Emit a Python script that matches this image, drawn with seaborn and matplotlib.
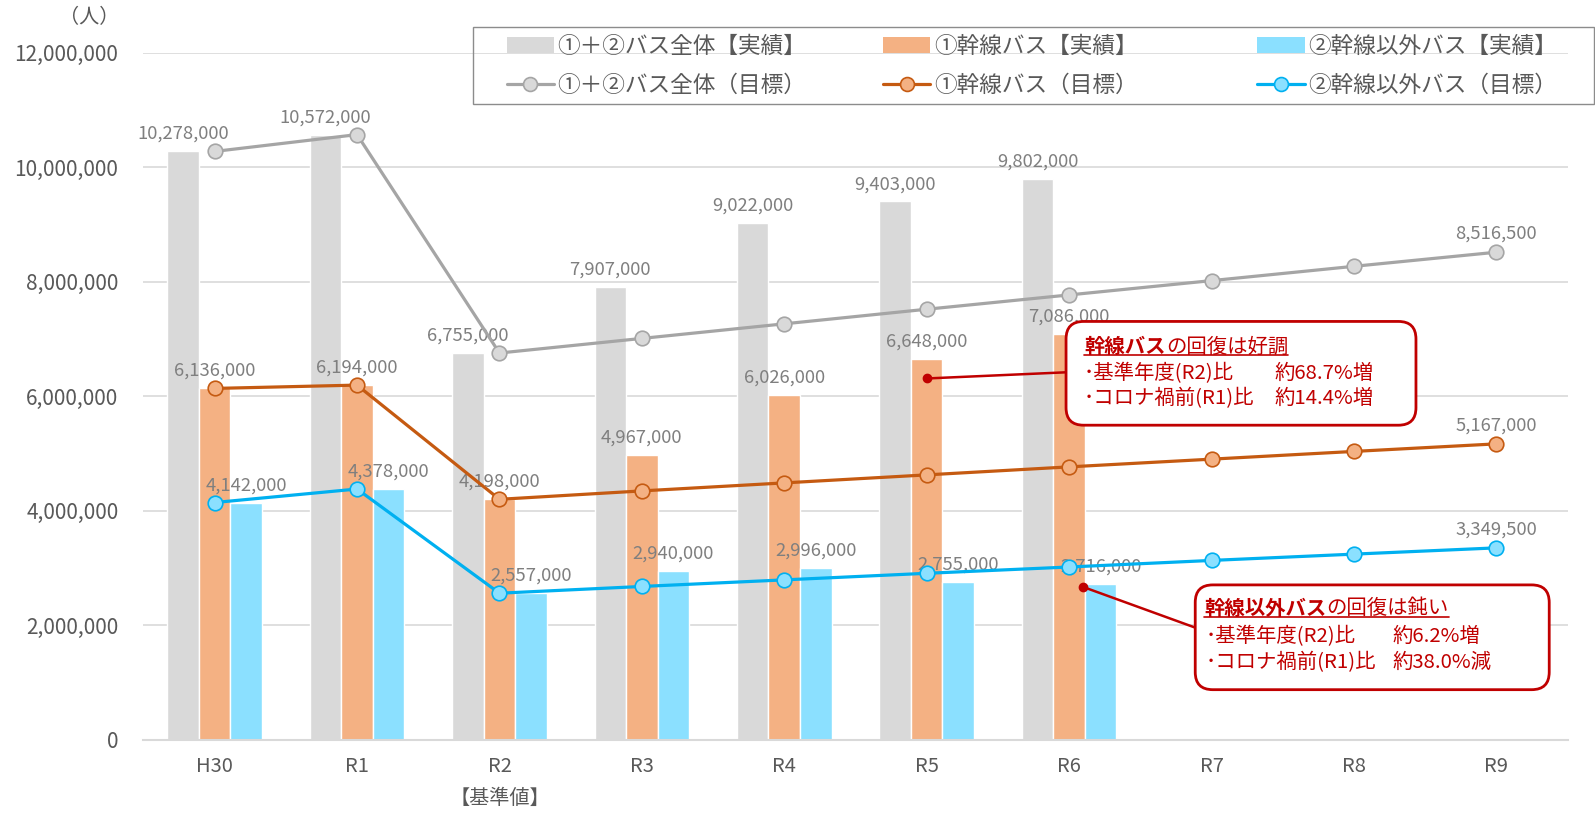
import matplotlib
matplotlib.use('Agg')
import matplotlib.pyplot as plt
import numpy as np
import pandas as pd
import seaborn as sns
from matplotlib.patches import Patch, FancyBboxPatch, Rectangle
from matplotlib.lines import Line2D
from matplotlib.ticker import FuncFormatter

# 年度
years = ['H30', 'R1', 'R2', 'R3', 'R4', 'R5', 'R6', 'R7', 'R8', 'R9']
actual_years = years[:7]

# 実績
total_actual = [10278000, 10572000, 6755000, 7907000, 9022000, 9403000, 9802000]
trunk_actual = [6136000, 6194000, 4198000, 4967000, 6026000, 6648000, 7086000]
other_actual = [4142000, 4378000, 2557000, 2940000, 2996000, 2755000, 2716000]

# 目標
total_target = [10278000, 10572000, 6755000, 7010000, 7265000, 7520000, 7770000, 8020000, 8270000, 8516500]
trunk_target = [6136000, 6194000, 4198000, 4345000, 4485000, 4625000, 4765000, 4900000, 5035000, 5167000]
other_target = [4142000, 4378000, 2557000, 2675000, 2790000, 2905000, 3015000, 3130000, 3240000, 3349500]

bar_names = ['①＋②バス全体【実績】', '①幹線バス【実績】', '②幹線以外バス【実績】']
line_names = ['①＋②バス全体（目標）', '①幹線バス（目標）', '②幹線以外バス（目標）']

bar_colors = ['#D9D9D9', '#F4B183', '#8BE0FF']
line_colors = ['#A5A5A5', '#C55A11', '#00B0F0']
TXT = '#595959'
LBL = '#7F7F7F'
RED = '#C00000'

sns.set_style('white')
plt.rcParams['font.family'] = ['Noto Sans CJK JP', 'DejaVu Sans']

W, H = 1595, 813
DW = 1568.0            # 位置は 1568 幅の見た目座標で指定
DH = H * DW / W


def fx(px):
    return px / DW


def fy(py):
    return 1 - py / DH


fig = plt.figure(figsize=(W / 100, H / 100), dpi=100)
ax = fig.add_axes([fx(141), fy(727), (1541 - 141) / DW, (727 - 52) / DH])

df = pd.DataFrame({
    '年度': actual_years * 3,
    '人数': total_actual + trunk_actual + other_actual,
    '区分': [bar_names[0]] * 7 + [bar_names[1]] * 7 + [bar_names[2]] * 7,
})
sns.barplot(data=df, x='年度', y='人数', hue='区分', order=years, hue_order=bar_names,
            palette=bar_colors, saturation=1, width=0.665, gap=0, legend=False, ax=ax, zorder=2)

for cont in ax.containers:
    ax.bar_label(cont, fmt='{:,.0f}', padding=6, color=LBL, fontsize=13.3)

pos = np.arange(len(years))
for vals, lc, fc in zip([total_target, trunk_target, other_target], line_colors, bar_colors):
    sns.lineplot(x=pos, y=vals, color=lc, lw=2.3, marker='o', markersize=10.5,
                 markerfacecolor=fc, markeredgecolor=lc, markeredgewidth=1.2, ax=ax, zorder=4)
    ax.annotate(f'{vals[-1]:,}', (pos[-1], vals[-1]), xytext=(0, 7), textcoords='offset points',
                ha='center', va='bottom', color=LBL, fontsize=13.3)

ax.set_xlim(-0.5, 9.5)
ax.set_ylim(0, 12000000)
ax.set_yticks(np.arange(0, 12000001, 2000000))
ax.yaxis.set_major_formatter(FuncFormatter(lambda v, p: f'{v:,.0f}'))
ax.set_xticks(pos)
ax.set_xticklabels(years)
ax.set_xlabel('')
ax.set_ylabel('')
ax.tick_params(axis='y', length=0, pad=18, labelsize=15, labelcolor=TXT)
ax.tick_params(axis='x', length=0, pad=12, labelsize=14.5, labelcolor=TXT)
ax.grid(axis='y', color='#D9D9D9', lw=1.2)
ax.set_axisbelow(True)
for s in ['top', 'right', 'left']:
    ax.spines[s].set_visible(False)
ax.spines['bottom'].set_color('#D9D9D9')
ax.spines['bottom'].set_linewidth(1.5)

ax.text(2, -0.086, '【基準値】', transform=ax.get_xaxis_transform(), ha='center', va='center',
        fontsize=14.5, color=TXT)
fig.text(fx(88), fy(17), '（人）', ha='center', va='center', fontsize=14.5, color=TXT)

# 凡例（3列、枠は別に描く）
col_x = [498, 868, 1236]
for bn, ln, bc, lc, cx in zip(bar_names, line_names, bar_colors, line_colors, col_x):
    hs = [Patch(facecolor=bc, edgecolor='none'),
          Line2D([], [], color=lc, lw=2.3, marker='o', markersize=10,
                 markerfacecolor=bc, markeredgecolor=lc, markeredgewidth=1.2)]
    fig.legend(hs, [bn, ln], loc='upper left', bbox_to_anchor=(fx(cx), fy(34)),
               borderaxespad=0, borderpad=0, frameon=False, fontsize=16.3, labelcolor=TXT,
               handlelength=2.1, handletextpad=0.15, labelspacing=0.72)
fig.add_artist(Rectangle((fx(465), fy(102)), fx(1567) - fx(465), fy(27) - fy(102),
                         transform=fig.transFigure, fill=False, edgecolor='#8C8C8C', lw=1.0))

# 吹き出し
callouts = [
    dict(box=(1048, 316, 1392, 418), bold='幹線バス', rest='の回復は好調',
         rows=[('･基準年度(R2)比', '約68.7%増'), ('･コロナ禍前(R1)比', '約14.4%増')],
         dot=(5.0, 6310000), join=(1048, 366), yrow=(341, 367, 392), xa=1253, tx=18, rx=17),
    dict(box=(1175, 575, 1523, 678), bold='幹線以外バス', rest='の回復は鈍い',
         rows=[('･基準年度(R2)比', '約6.2%増'), ('･コロナ禍前(R1)比', '約38.0%減')],
         dot=(6.1, 2665000), join=(1175, 617), yrow=(598, 626, 651), xa=1369, tx=9, rx=10),
]

title_parts = []
for c in callouts:
    x0, y0, x1, y1 = c['box']
    box = FancyBboxPatch((fx(x0), fy(y1)), fx(x1) - fx(x0), fy(y0) - fy(y1),
                         boxstyle='round,pad=0,rounding_size=0.011', mutation_aspect=W / H,
                         transform=fig.transFigure, facecolor='white', edgecolor=RED, lw=2.0,
                         zorder=10)
    fig.add_artist(box)
    ax.plot([c['dot'][0]], [c['dot'][1]], 'o', color=RED, markersize=6, zorder=6)
    ax.annotate('', xy=c['dot'], xycoords='data', xytext=(fx(c['join'][0]), fy(c['join'][1])),
                textcoords='figure fraction',
                arrowprops=dict(arrowstyle='-', color=RED, lw=1.8, shrinkA=0, shrinkB=0), zorder=5)
    tb = fig.text(fx(x0 + c['tx']), fy(c['yrow'][0]), c['bold'], ha='left', va='center',
                  fontsize=14.7, color=RED, fontweight='bold', zorder=11)
    title_parts.append((tb, c))
    for (a, b), yy in zip(c['rows'], c['yrow'][1:]):
        fig.text(fx(x0 + c['rx']), fy(yy), a, ha='left', va='center', fontsize=14.7, color=RED,
                 zorder=11)
        fig.text(fx(c['xa']), fy(yy), b, ha='left', va='center', fontsize=14.7, color=RED, zorder=11)

fig.canvas.draw()
renderer = fig.canvas.get_renderer()
inv = fig.transFigure.inverted()
for tb, c in title_parts:
    bb = tb.get_window_extent(renderer)
    xe, _ = inv.transform((bb.x1, bb.y0))
    tr = fig.text(xe, fy(c['yrow'][0]), c['rest'], ha='left', va='center',
                  fontsize=14.7, color=RED, zorder=11)
    bb2 = tr.get_window_extent(renderer)
    ux0, uy = inv.transform((bb.x0, bb.y0 + 2))
    ux1, _ = inv.transform((bb2.x1, bb2.y0))
    fig.add_artist(Line2D([ux0, ux1], [uy, uy], transform=fig.transFigure, color=RED, lw=1.2,
                          zorder=12))

fig.savefig('out.png', dpi=100)
